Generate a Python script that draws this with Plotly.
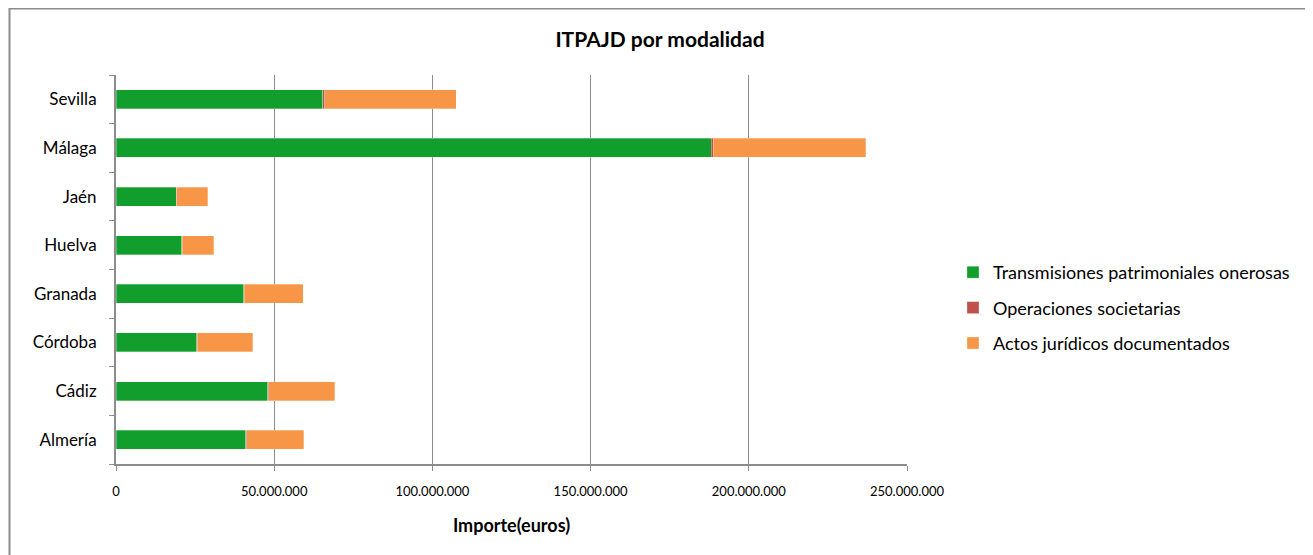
import plotly.graph_objects as go

# provinces, bottom to top as drawn
provincias = ["Almería", "Cádiz", "Córdoba", "Granada", "Huelva", "Jaén", "Málaga", "Sevilla"]

# amounts in euros
transmisiones = [41000000, 48000000, 25500000, 40400000, 20800000, 19100000, 188100000, 65300000]
operaciones = [250000, 300000, 150000, 200000, 100000, 100000, 600000, 600000]
actos = [18050000, 20800000, 17550000, 18600000, 10000000, 9800000, 48300000, 41600000]

series = [
    ("Transmisiones patrimoniales onerosas", transmisiones, "#119E2D"),
    ("Operaciones societarias", operaciones, "#C0504D"),
    ("Actos jurídicos documentados", actos, "#F79646"),
]

# the page puts the figure 8px in from the top left corner
OFF = 8
W, H = 1313 - OFF, 555 - OFF
L, T = 116 - OFF, 75 - OFF
R = W - (907 - OFF)
B = H - (464 - OFF)
pw, ph = W - L - R, H - T - B

fig = go.Figure()
for i, (name, vals, color) in enumerate(series):
    fig.add_trace(go.Bar(
        y=provincias, x=vals, name=name, orientation="h",
        marker=dict(color=color, line=dict(color="rgba(255,255,255,0.6)", width=0.5)),
        legendgroup=str(i),
    ))

font = "Lato, Carlito, Calibri, sans-serif"
grid = "#8C8C8C"

fig.update_layout(
    width=W, height=H,
    margin=dict(l=L, r=R, t=T, b=B, autoexpand=False),
    barmode="stack", bargap=0.61,
    paper_bgcolor="white", plot_bgcolor="white",
    separators=",.",
    font=dict(family=font, color="#000000"),
    title=dict(text="<b>ITPAJD por modalidad</b>", x=(660 - OFF) / W, xanchor="center",
               y=1 - (40 - OFF) / H, yanchor="middle", font=dict(size=21, family=font)),
    legend=dict(xref="container", yref="container", x=(953 - OFF) / W, y=1 - (254 - OFF) / H,
                xanchor="left", yanchor="top", font=dict(size=18, family=font),
                traceorder="grouped", tracegroupgap=9, itemwidth=30,
                bgcolor="rgba(0,0,0,0)"),
    showlegend=True,
)

fig.update_xaxes(
    range=[0, 250000000], dtick=50000000, tickformat=",d",
    showgrid=True, gridcolor=grid, gridwidth=1,
    showline=True, linecolor=grid, linewidth=2,
    ticks="outside", ticklen=5, tickcolor=grid, ticklabelstandoff=9,
    tickfont=dict(size=13, family=font),
    zeroline=False, automargin=False,
    title=dict(text="<b>Importe(euros)</b>", font=dict(size=18, family=font), standoff=22),
)
fig.update_yaxes(
    showgrid=False, showline=True, linecolor=grid, linewidth=2,
    ticks="outside", ticklen=5, tickcolor=grid, tickson="boundaries",
    ticklabelstandoff=14, tickfont=dict(size=17, family=font),
    automargin=False,
)

# outer chart border
fig.add_shape(type="rect", xref="paper", yref="paper",
              x0=(9.5 - 116) / pw, x1=(1311 - 116) / pw,
              y0=(464 - 570) / ph, y1=(464 - 8.5) / ph,
              line=dict(color=grid, width=2), fillcolor="rgba(0,0,0,0)", layer="below")

fig.write_html("out.html")
